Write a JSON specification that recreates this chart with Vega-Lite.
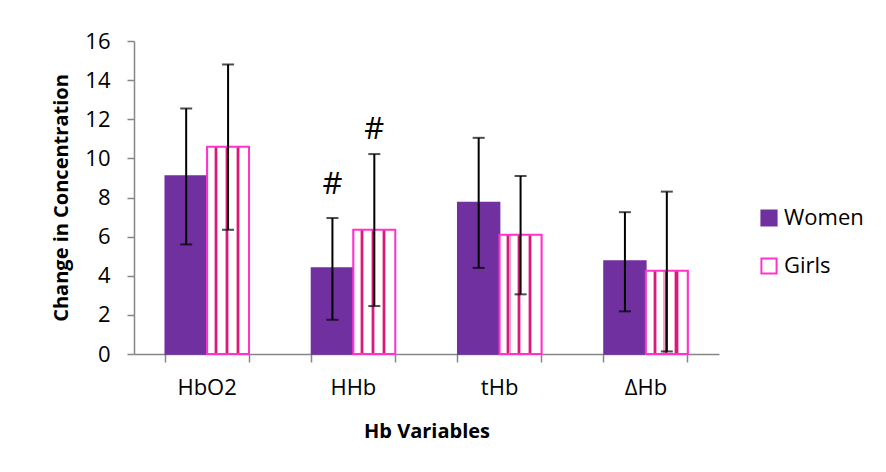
{
  "$schema": "https://vega.github.io/schema/vega-lite/v6.json",
  "autosize": {"type": "none"},
  "padding": {"left": 134, "top": 41, "right": 167, "bottom": 118},
  "width": 585,
  "height": 313,
  "background": "white",
  "config": {
    "view": {"stroke": null},
    "font": "Open Sans",
    "axis": {"labelFont": "Open Sans", "titleFont": "Open Sans", "labelColor": "#000000", "titleColor": "#000000", "domainColor": "#868686", "tickColor": "#868686", "domainWidth": 1.5, "tickWidth": 1.5, "grid": false, "labelOverlap": false},
    "axisY": {"title": "Change in Concentration", "titleFontSize": 20, "titleFontWeight": "bold", "labelFontSize": 22, "tickSize": 7, "labelPadding": 17, "titlePadding": 13}
  },
  "data": {
    "values": [
      {"var": "HbO2", "group": "Women", "value": 9.1, "lo": 5.6, "hi": 12.55},
      {"var": "HbO2", "group": "Girls", "value": 10.6, "lo": 6.35, "hi": 14.8},
      {"var": "HHb", "group": "Women", "value": 4.4, "lo": 1.75, "hi": 6.95, "sig": "#", "sig_y": 8.65},
      {"var": "HHb", "group": "Girls", "value": 6.35, "lo": 2.45, "hi": 10.22, "sig": "#", "sig_y": 11.45},
      {"var": "tHb", "group": "Women", "value": 7.75, "lo": 4.4, "hi": 11.05},
      {"var": "tHb", "group": "Girls", "value": 6.1, "lo": 3.05, "hi": 9.1},
      {"var": "ΔHb", "group": "Women", "value": 4.75, "lo": 2.18, "hi": 7.25},
      {"var": "ΔHb", "group": "Girls", "value": 4.25, "lo": 0.13, "hi": 8.3}
    ]
  },
  "resolve": {"axis": {"x": "independent"}},
  "layer": [
    {
      "mark": {"type": "bar", "strokeWidth": 1.5},
      "encoding": {
        "x": {"field": "var", "type": "nominal", "sort": ["HbO2", "HHb", "tHb", "ΔHb"],
          "scale": {"paddingInner": 0.427, "paddingOuter": 0.2135},
          "axis": {"title": "Hb Variables", "titleFontSize": 20, "titleFontWeight": "bold", "labelFontSize": 22, "labelAngle": 0, "bandPosition": 0, "tickSize": 8, "labelPadding": 15, "titlePadding": 23}},
        "xOffset": {"field": "group", "type": "nominal", "sort": ["Women", "Girls"], "scale": {"paddingInner": 0, "paddingOuter": 0}},
        "y": {"field": "value", "type": "quantitative",
          "scale": {"domain": [0, 16]},
          "axis": {"title": "Change in Concentration", "values": [0, 2, 4, 6, 8, 10, 12, 14, 16]}},
        "color": {"field": "group", "type": "nominal", "sort": ["Women", "Girls"],
          "scale": {"domain": ["Women", "Girls"], "range": ["#7030A0", "#FFFFFF"]},
          "legend": {"title": null, "orient": "none", "legendX": 624, "legendY": 166, "labelFontSize": 22, "labelFont": "Open Sans", "labelColor": "#000000", "symbolType": "square", "symbolSize": 230, "symbolStrokeWidth": 2, "rowPadding": 24, "labelOffset": 4,
            "encode": {"symbols": {"update": {"fill": [{"test": "datum.label === 'Girls'", "value": {"gradient": "linear", "x1": 0, "x2": 1, "y1": 0, "y2": 0, "stops": [
              {"offset": 0, "color": "#FFFFFF"}, {"offset": 0.3, "color": "#FFFFFF"}, {"offset": 0.3, "color": "#D81B7A"}, {"offset": 0.42, "color": "#D81B7A"}, {"offset": 0.42, "color": "#FFFFFF"},
              {"offset": 0.6, "color": "#FFFFFF"}, {"offset": 0.6, "color": "#D81B7A"}, {"offset": 0.72, "color": "#D81B7A"}, {"offset": 0.72, "color": "#FFFFFF"}, {"offset": 1, "color": "#FFFFFF"}]}},
              {"value": "#7030A0"}]}}}}},
        "stroke": {"field": "group", "type": "nominal", "sort": ["Women", "Girls"],
          "scale": {"domain": ["Women", "Girls"], "range": ["#7030A0", "#FF33CC"]}}
      }
    },
    {
      "transform": [{"filter": "datum.group === 'Girls'"}],
      "mark": {"type": "bar", "stroke": "#FF33CC", "strokeWidth": 2,
        "fill": {"gradient": "linear", "x1": 0, "x2": 1, "y1": 0, "y2": 0, "stops": [
          {"offset": 0, "color": "#FFFFFF"},
          {"offset": 0.16, "color": "#FFFFFF"}, {"offset": 0.16, "color": "#F5A3CB"}, {"offset": 0.185, "color": "#F5A3CB"}, {"offset": 0.185, "color": "#D81B7A"}, {"offset": 0.235, "color": "#D81B7A"}, {"offset": 0.235, "color": "#F5A3CB"}, {"offset": 0.26, "color": "#F5A3CB"}, {"offset": 0.26, "color": "#FFFFFF"},
          {"offset": 0.42, "color": "#FFFFFF"}, {"offset": 0.42, "color": "#F5A3CB"}, {"offset": 0.445, "color": "#F5A3CB"}, {"offset": 0.445, "color": "#D81B7A"}, {"offset": 0.495, "color": "#D81B7A"}, {"offset": 0.495, "color": "#F5A3CB"}, {"offset": 0.52, "color": "#F5A3CB"}, {"offset": 0.52, "color": "#FFFFFF"},
          {"offset": 0.68, "color": "#FFFFFF"}, {"offset": 0.68, "color": "#F5A3CB"}, {"offset": 0.705, "color": "#F5A3CB"}, {"offset": 0.705, "color": "#D81B7A"}, {"offset": 0.755, "color": "#D81B7A"}, {"offset": 0.755, "color": "#F5A3CB"}, {"offset": 0.78, "color": "#F5A3CB"}, {"offset": 0.78, "color": "#FFFFFF"},
          {"offset": 1, "color": "#FFFFFF"}]}},
      "encoding": {
        "x": {"field": "var", "type": "nominal", "sort": ["HbO2", "HHb", "tHb", "ΔHb"],
          "axis": {"orient": "bottom", "title": null, "labels": false, "domain": false, "bandPosition": 1, "tickSize": 8}},
        "xOffset": {"field": "group", "type": "nominal", "sort": ["Women", "Girls"]},
        "y": {"field": "value", "type": "quantitative", "axis": {"title": "Change in Concentration", "values": [0, 2, 4, 6, 8, 10, 12, 14, 16]}}
      }
    },
    {
      "mark": {"type": "rule", "color": "#000000", "strokeWidth": 2},
      "encoding": {
        "x": {"field": "var", "type": "nominal", "sort": ["HbO2", "HHb", "tHb", "ΔHb"], "axis": null},
        "xOffset": {"field": "group", "type": "nominal", "sort": ["Women", "Girls"]},
        "y": {"field": "lo", "type": "quantitative", "axis": {"title": "Change in Concentration", "values": [0, 2, 4, 6, 8, 10, 12, 14, 16]}}, "y2": {"field": "hi"}}
    },
    {
      "mark": {"type": "tick", "color": "#000000", "thickness": 2, "size": 12},
      "encoding": {
        "x": {"field": "var", "type": "nominal", "sort": ["HbO2", "HHb", "tHb", "ΔHb"], "axis": null},
        "xOffset": {"field": "group", "type": "nominal", "sort": ["Women", "Girls"]},
        "y": {"field": "lo", "type": "quantitative", "axis": {"title": "Change in Concentration", "values": [0, 2, 4, 6, 8, 10, 12, 14, 16]}}}
    },
    {
      "mark": {"type": "tick", "color": "#000000", "thickness": 2, "size": 12},
      "encoding": {
        "x": {"field": "var", "type": "nominal", "sort": ["HbO2", "HHb", "tHb", "ΔHb"], "axis": null},
        "xOffset": {"field": "group", "type": "nominal", "sort": ["Women", "Girls"]},
        "y": {"field": "hi", "type": "quantitative", "axis": {"title": "Change in Concentration", "values": [0, 2, 4, 6, 8, 10, 12, 14, 16]}}}
    },
    {
      "transform": [{"filter": "isValid(datum.sig)"}],
      "mark": {"type": "text", "fontSize": 31, "font": "Open Sans", "color": "#000000", "baseline": "middle"},
      "encoding": {
        "x": {"field": "var", "type": "nominal", "sort": ["HbO2", "HHb", "tHb", "ΔHb"], "axis": null},
        "xOffset": {"field": "group", "type": "nominal", "sort": ["Women", "Girls"]},
        "y": {"field": "sig_y", "type": "quantitative", "axis": {"title": "Change in Concentration", "values": [0, 2, 4, 6, 8, 10, 12, 14, 16]}}, "text": {"field": "sig"}}
    }
  ]
}
